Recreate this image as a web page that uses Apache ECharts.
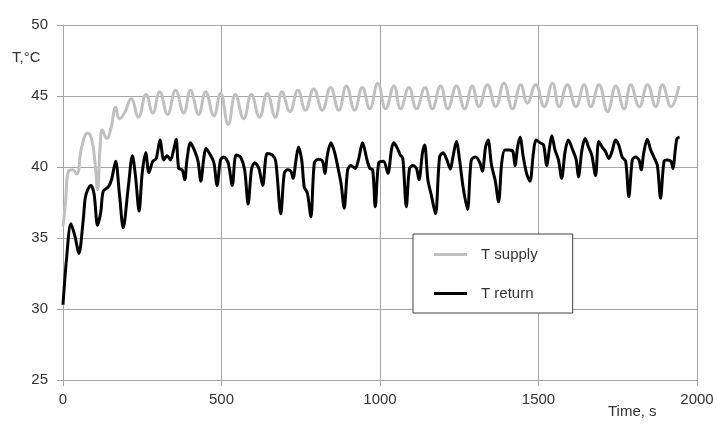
<!DOCTYPE html>
<html>
<head>
<meta charset="utf-8">
<script src="https://cdn.jsdelivr.net/npm/echarts@6/dist/echarts.min.js"></script>
<style>
html,body{margin:0;padding:0;background:#fff;}
#c{width:717px;height:424px;}
</style>
</head>
<body>
<div id="c"></div>
<script>
// Axis ticks
const xTicks = [0, 500, 1000, 1500, 2000];
const yTicks = [25, 30, 35, 40, 45, 50];
const seriesNames = ['T supply', 'T return'];

// T supply (time s, temperature °C)
const supplyTime = [0, 8, 17, 30, 43, 59, 78, 90, 101, 109, 117, 124, 138, 152, 166, 178, 194, 215, 238, 262,
  283, 305, 330, 355, 381, 402, 428, 450, 476, 497, 521, 544, 570, 594, 620, 644, 670, 691, 716, 741,
  765, 791, 818, 844, 870, 894, 920, 944, 968, 993, 1018, 1044, 1065, 1091, 1115, 1142, 1165, 1191, 1214, 1241,
  1267, 1291, 1312, 1339, 1365, 1391, 1418, 1444, 1465, 1491, 1518, 1544, 1565, 1591, 1618, 1644, 1665, 1691, 1718, 1744,
  1770, 1791, 1818, 1844, 1870, 1891, 1918, 1943];
const supplyTemp = [35.8, 37.5, 39.7, 39.8, 39.5, 41.4, 42.4, 42.0, 40.3, 38.4, 41.4, 42.6, 42.0, 42.8, 44.2, 43.4, 43.8, 44.8, 43.5, 45.1,
  43.8, 45.3, 43.7, 45.4, 43.8, 45.4, 43.7, 45.3, 43.6, 45.2, 43.0, 45.1, 43.4, 45.1, 43.5, 45.2, 43.5, 45.3, 43.9, 45.4,
  44.0, 45.5, 44.0, 45.6, 44.0, 45.7, 44.0, 45.6, 44.1, 45.9, 44.1, 45.7, 44.1, 45.6, 44.1, 45.6, 44.1, 45.7, 44.1, 45.7,
  44.1, 45.7, 44.25, 45.8, 44.25, 45.9, 44.1, 45.8, 44.5, 45.8, 44.25, 45.9, 44.25, 45.8, 44.25, 45.8, 44.25, 45.8, 43.9, 45.7,
  44.1, 45.8, 44.25, 45.8, 44.25, 45.8, 44.25, 45.7];

// T return (time s, temperature °C)
const returnTime = [0, 11, 25, 38, 50, 64, 70, 78, 88, 98,
  109, 119, 127, 143, 153, 166, 178, 190, 206, 219,
  229, 240, 250, 261, 271, 283, 294, 306, 318, 328,
  339, 349, 357, 365, 376, 384, 391, 402, 416, 426,
  435, 444, 451, 465, 476, 486, 497, 507, 521, 534,
  546, 560, 573, 584, 595, 605, 618, 630, 644, 660,
  671, 687, 698, 708, 719, 726, 735, 743, 753, 761,
  771, 782, 793, 806, 819, 826, 834, 845, 856, 866,
  877, 887, 898, 908, 922, 932, 945, 959, 968, 977,
  985, 996, 1011, 1025, 1036, 1043, 1053, 1064, 1072, 1083,
  1093, 1104, 1115, 1123, 1134, 1141, 1151, 1162, 1175, 1188,
  1199, 1211, 1222, 1230, 1241, 1251, 1262, 1276, 1288, 1302,
  1315, 1323, 1333, 1341, 1352, 1363, 1374, 1384, 1394, 1408,
  1419, 1426, 1434, 1442, 1452, 1463, 1473, 1484, 1492, 1505,
  1516, 1526, 1535, 1542, 1552, 1563, 1573, 1584, 1594, 1608,
  1619, 1626, 1637, 1647, 1658, 1668, 1680, 1690, 1701, 1711,
  1722, 1732, 1743, 1753, 1764, 1775, 1785, 1796, 1806, 1817,
  1824, 1832, 1843, 1854, 1864, 1875, 1885, 1896, 1906, 1918,
  1924, 1932, 1937, 1945];
const returnTemp = [30.3, 33.5, 36.0, 35.1, 33.9, 36.3, 37.8, 38.4, 38.7, 38.1,
  35.9, 36.8, 38.3, 38.6, 39.1, 40.4, 38.1, 35.7, 38.6, 40.8,
  39.3, 36.9, 39.6, 41.0, 39.6, 40.4, 40.6, 41.9, 40.5, 40.8,
  40.5, 41.2, 41.95, 39.9, 39.8, 39.1, 40.5, 41.7, 41.1, 40.4,
  39.0, 40.6, 41.3, 40.85, 40.3, 38.7, 40.5, 40.7, 40.3, 38.7,
  40.85, 40.7, 39.8, 37.4, 39.9, 40.3, 39.9, 38.7, 40.95, 40.85,
  40.4, 36.7, 39.55, 39.8, 39.7, 39.2, 40.5, 41.4, 40.5, 38.6,
  38.15, 36.5, 40.3, 40.55, 40.4, 39.55, 40.85, 41.7, 41.1, 40.1,
  38.85, 37.1, 39.8, 40.1, 39.9, 40.5, 41.7, 40.5, 39.9, 39.8,
  37.2, 40.3, 40.4, 39.55, 41.2, 41.7, 41.4, 40.85, 40.6, 37.2,
  39.9, 40.1, 39.9, 39.1, 41.0, 41.55, 39.1, 38.0, 36.7, 40.7,
  41.0, 40.5, 39.85, 40.7, 41.8, 40.5, 38.6, 37.0, 40.5, 40.7,
  40.3, 39.7, 41.4, 41.9, 40.1, 39.1, 37.55, 40.3, 41.2, 41.2,
  41.1, 40.1, 41.4, 42.1, 40.7, 39.5, 39.0, 41.0, 41.9, 41.7,
  41.55, 40.1, 41.4, 42.2, 41.2, 40.5, 39.2, 41.1, 41.9, 41.2,
  40.5, 39.3, 41.2, 42.0, 41.4, 40.85, 39.4, 41.8, 41.4, 41.1,
  40.6, 41.1, 41.9, 41.55, 40.7, 40.4, 37.9, 40.5, 40.7, 40.5,
  39.8, 41.0, 41.95, 41.2, 40.7, 40.1, 37.8, 40.4, 40.5, 40.4,
  39.9, 41.3, 42.0, 42.1];

const zip = (a, b) => a.map((t, i) => [t, b[i]]);
const font = 'Liberation Sans, Arial, sans-serif';

const chart = echarts.init(document.getElementById('c'), null, {renderer: 'canvas'});
chart.setOption({
  animation: false,
  backgroundColor: '#ffffff',
  grid: {left: 63, right: 20, top: 25, bottom: 44, containLabel: false},
  xAxis: {
    type: 'value', min: xTicks[0], max: xTicks[xTicks.length - 1], interval: 500,
    axisLine: {show: true, lineStyle: {color: '#a6a6a6', width: 1}},
    axisTick: {show: true, length: 6, lineStyle: {color: '#a6a6a6'}},
    axisLabel: {color: '#333', fontSize: 15, fontFamily: font, margin: 12, formatter: v => String(v)},
    splitLine: {show: true, lineStyle: {color: '#a6a6a6', width: 1}}
  },
  yAxis: {
    type: 'value', min: yTicks[0], max: yTicks[yTicks.length - 1], interval: 5,
    axisLine: {show: true, lineStyle: {color: '#a6a6a6', width: 1}},
    axisTick: {show: true, length: 6, lineStyle: {color: '#a6a6a6'}},
    axisLabel: {color: '#333', fontSize: 15, fontFamily: font, margin: 15, formatter: v => String(v)},
    splitLine: {show: true, lineStyle: {color: '#a6a6a6', width: 1}}
  },
  legend: {
    orient: 'vertical', left: 413, top: 234,
    data: seriesNames,
    icon: 'path://M0,0L33,0L33,3L0,3Z',
    itemWidth: 33, itemHeight: 3, itemGap: 22,
    padding: [12, 35, 11, 21],
    borderColor: '#404040', borderWidth: 1, backgroundColor: '#fff',
    textStyle: {color: '#333', fontSize: 15, fontFamily: font, lineHeight: 17, padding: [0, 0, 0, 9]}
  },
  graphic: [
    {type: 'text', left: 12, top: 50, style: {text: 'T,°C', font: '15px ' + font, fill: '#333'}},
    {type: 'text', left: 608, top: 404, style: {text: 'Time, s', font: '15px ' + font, fill: '#333'}}
  ],
  series: [
    {
      name: seriesNames[0], type: 'line', data: zip(supplyTime, supplyTemp),
      symbol: 'none', smooth: 0.45,
      lineStyle: {color: '#c0c0c0', width: 3}, itemStyle: {color: '#c0c0c0'}, z: 2
    },
    {
      name: seriesNames[1], type: 'line', data: zip(returnTime, returnTemp),
      symbol: 'none', smooth: 0.3,
      lineStyle: {color: '#000000', width: 3}, itemStyle: {color: '#000000'}, z: 3
    }
  ]
});
</script>
</body>
</html>
